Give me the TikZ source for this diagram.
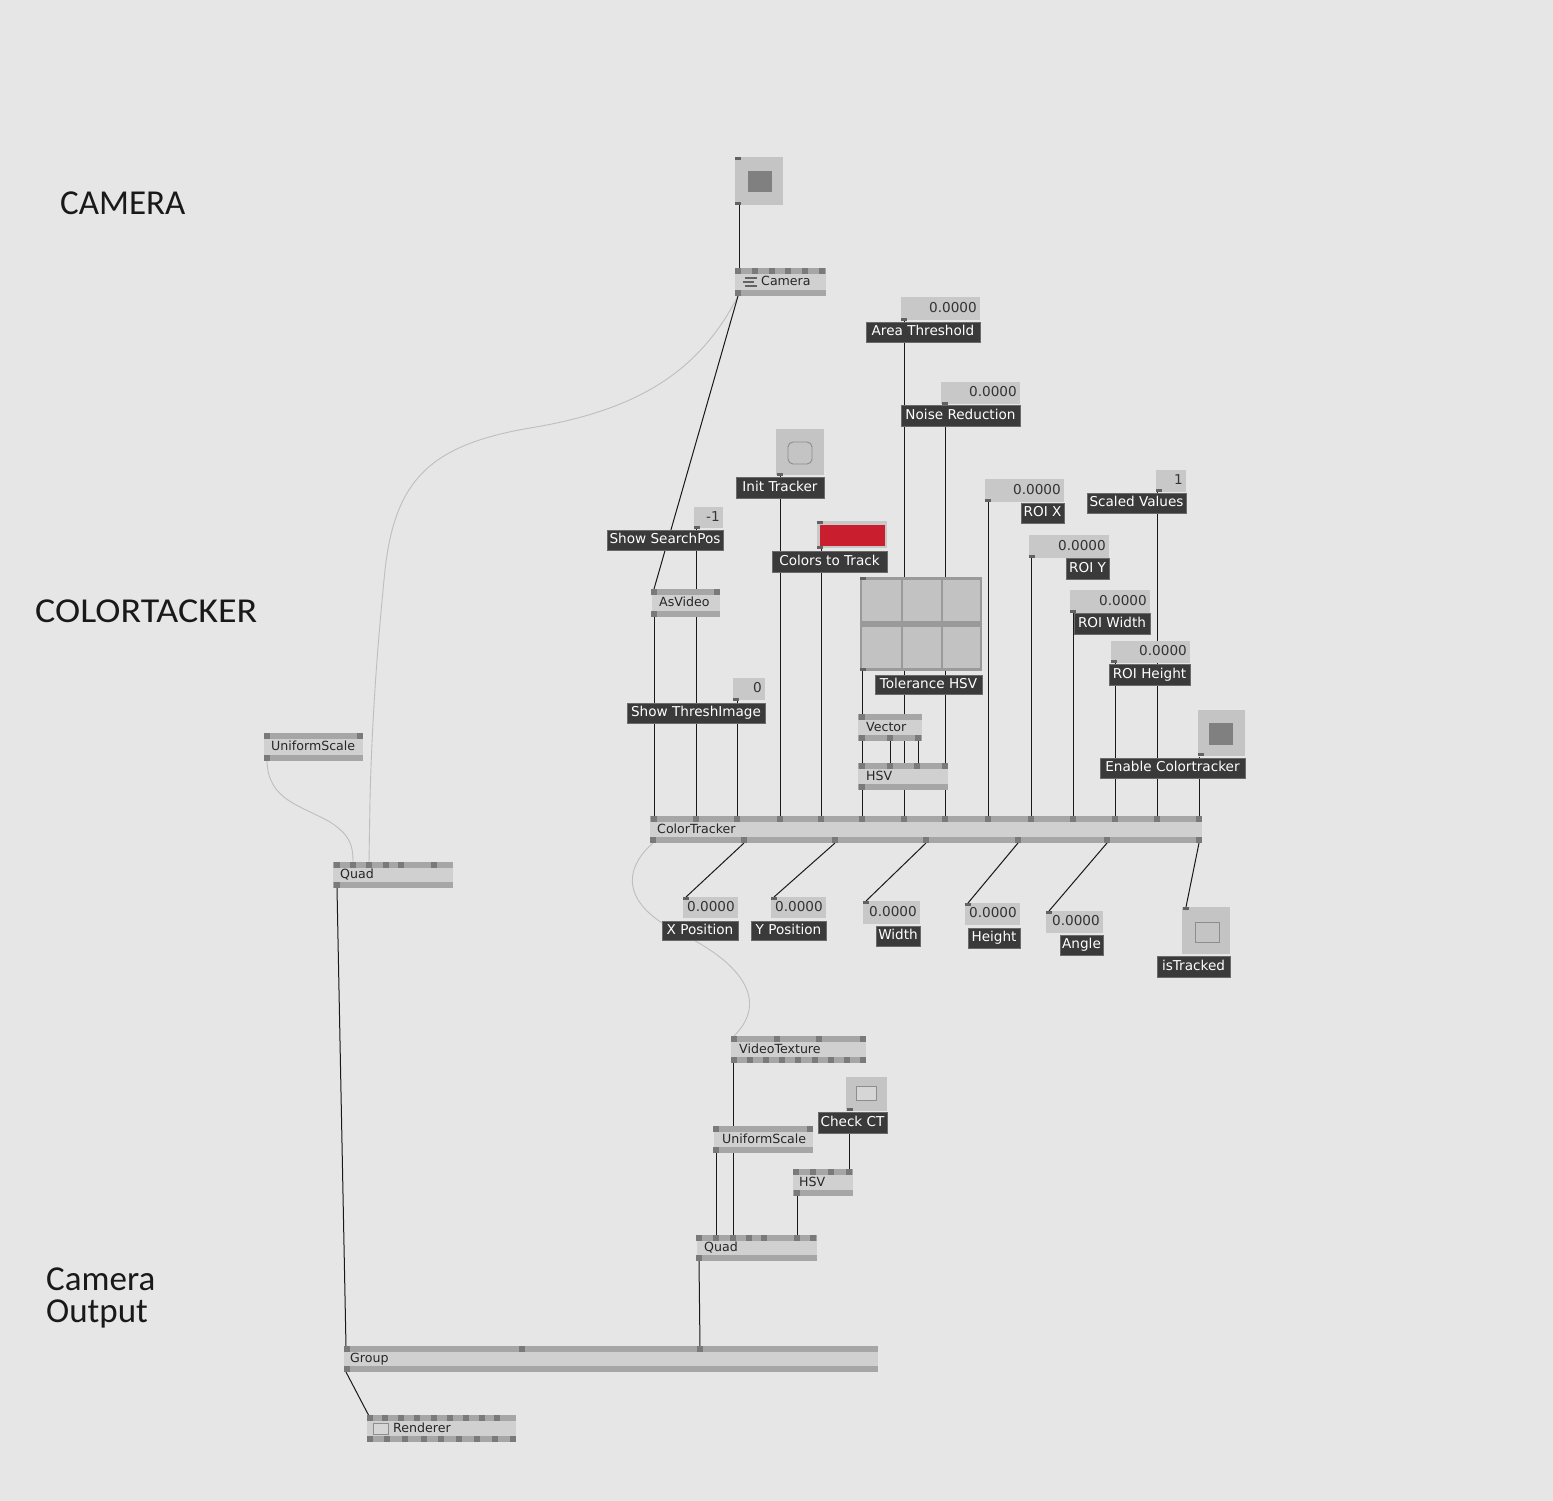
\documentclass[tikz,border=0pt]{standalone}
\usepackage{fontspec}
\setmainfont{DejaVu Sans}
\newfontfamily\titlefont{Carlito}
\definecolor{bgc}{HTML}{E6E6E6}
\definecolor{bodyc}{HTML}{D0D0D0}
\definecolor{barc}{HTML}{A6A6A6}
\definecolor{pinc}{HTML}{7A7A7A}
\definecolor{valc}{HTML}{C8C8C8}
\definecolor{labc}{HTML}{3A3A3A}
\definecolor{labb}{HTML}{6A6A6A}
\definecolor{togc}{HTML}{C4C4C4}
\definecolor{togin}{HTML}{808080}
\definecolor{curvec}{HTML}{BEBEBE}
\definecolor{cellc}{HTML}{C2C2C2}
\definecolor{sepc}{HTML}{9A9A9A}
\definecolor{redc}{HTML}{C81E2D}
\tikzset{
 vbody/.style={rectangle, fill=bodyc, inner sep=0pt, outer sep=0pt},
 nodetext/.style={font=\fontsize{12.6}{14}\selectfont, inner sep=0pt, text=black!85, text height=9.5pt, text depth=2.5pt},
 valstyle/.style={rectangle, fill=valc, inner sep=0pt, outer sep=0pt},
 valtext/.style={font=\fontsize{13.6}{15}\selectfont, inner sep=0pt, text=black!80, text height=10pt, text depth=2.5pt},
 labstyle/.style={rectangle, fill=labc, draw=labb, line width=0.6pt, inner sep=0pt, outer sep=0pt, text=white, font=\fontsize{13.6}{15}\selectfont, text height=10.5pt, text depth=3pt},
 togstyle/.style={rectangle, fill=togc, inner sep=0pt, outer sep=0pt},
 wire/.style={draw=black!90, line width=1pt},
 gwire/.style={draw=curvec, line width=0.9pt},
 title/.style={font=\titlefont\fontsize{35}{32}\selectfont, inner sep=0pt, text=black!90},
}
\newcommand\vvnode[7]{%
 \node[vbody, minimum width=#4pt, minimum height=#5pt, anchor=north west] (#1) at (#2,#3) {};
 \fill[barc] (#2,#3) rectangle ++(#4,6);
 \fill[barc] (#2,#3+#5) rectangle ++(#4,-6);
 \node[nodetext, anchor=west] (#1-t) at (#2+#7,#3+#5/2) {#6};
}
\newcommand\vtp[2]{\fill[pinc] (#1-3,#2) rectangle ++(6,6);}
\newcommand\vbp[2]{\fill[pinc] (#1-3,#2) rectangle ++(6,-6);}
\newcommand\sqpin[2]{\fill[pinc!80!black] (#1,#2) rectangle ++(6,3);}
\newcommand\valbox[6]{%
 \node[valstyle, minimum width=#4pt, minimum height=#5pt, anchor=north west] (#1) at (#2,#3) {};
 \node[valtext, anchor=east] (#1-t) at (#2+#4-3,#3+#5/2) {#6};
}
\newcommand\labbox[6]{%
 \node[labstyle, minimum width=#4pt, minimum height=#5pt, anchor=north west] (#1) at (#2,#3) {#6};
}
\newcommand\togbox[5]{%
 \node[togstyle, minimum width=#4pt, minimum height=#5pt, anchor=north west] (#1) at (#2,#3) {};
}
\begin{document}
\begin{tikzpicture}[x=1pt,y=-1pt]
\fill[bgc] (0,0) rectangle (1553,1501);
\useasboundingbox (0,0) rectangle (1553,1501);

% titles
\node[title, anchor=base west] (tcam) at (60,214) {CAMERA};
\node[title, anchor=base west] (tct) at (35,622) {\scalebox{1.085}[1]{COLORTACKER}};
\node[title, anchor=north west, align=left] (tout) at (46,1268) {Camera\\Output};

% coordinates for wires
\coordinate (camtogO) at (739,205);
\coordinate (camI) at (739,268);
\coordinate (camO) at (738,296);
\coordinate (asvI) at (654,589);
\coordinate (q1I2) at (353,862);
\coordinate (q1I3) at (369,862);
\coordinate (us1O) at (267,761);
\coordinate (q1O) at (337,888);
\coordinate (grpI1) at (346,1347);
\coordinate (grpI3) at (700,1347);
\coordinate (grpO) at (346,1372);
\coordinate (renI) at (369,1416);
\coordinate (q2O) at (699,1261);
\coordinate (ctO1) at (653,843);
\coordinate (vtI) at (734,1036);
\coordinate (vtO) at (733,1063);
\coordinate (q2I3) at (733,1235);
\coordinate (us2O) at (716,1153);
\coordinate (q2I2) at (716,1235);
\coordinate (cctO) at (849,1133);
\coordinate (hsv2I) at (849,1169);
\coordinate (hsv2O) at (797,1196);
\coordinate (q2I6) at (797,1235);

% gray curves
\draw[gwire] (camO) .. controls (700,370) and (640,410) .. (530,428)
  .. controls (430,445) and (395,480) .. (385,570)
  .. controls (377,650) and (372,720) .. (370,800) -- (q1I3);
\draw[gwire] (us1O) .. controls (268,800) and (300,805) .. (330,822)
  .. controls (350,835) and (353,845) .. (q1I2);
\draw[gwire] (ctO1) .. controls (622,870) and (622,905) .. (680,933)
  .. controls (740,962) and (770,1000) .. (vtI);

% black wires
\draw[wire] (camtogO) -- (camI);
\draw[wire] (camO) -- (asvI);
\draw[wire] (q1O) -- (grpI1);
\draw[wire] (grpO) -- (renI);
\draw[wire] (q2O) -- (grpI3);
\draw[wire] (vtO) -- (q2I3);
\draw[wire] (us2O) -- (q2I2);
\draw[wire] (cctO) -- (hsv2I);
\draw[wire] (hsv2O) -- (q2I6);

% ColorTracker inputs
\foreach \xx/\yy in {654/617, 696/528, 737/700, 780/475, 821/548, 862/790, 904/320, 945/403, 988/501, 1031/558, 1073/613, 1115/663, 1157/492, 1199/757}{
  \draw[wire] (\xx,\yy) -- (\xx,816);
}
\draw[wire] (862,670) -- (862,714);
\foreach \xx in {862,890,918}{\draw[wire] (\xx,741) -- (\xx,763);}

% ColorTracker outputs
\draw[wire] (744,843) -- (686,897);
\draw[wire] (835,843) -- (774,897);
\draw[wire] (926,843) -- (866,901);
\draw[wire] (1018,843) -- (968,903);
\draw[wire] (1107,843) -- (1049,911);
\draw[wire] (1199,843) -- (1186,907);

% ---------- Camera section
\togbox{camtog}{735}{157}{48}{48}
\fill[togin] (748,171) rectangle (772,192);
\sqpin{735}{157}\sqpin{735}{202}
\vvnode{cam}{735}{268}{91}{28}{Camera}{26}
\foreach \p in {738,755,772,788,805,822}{\vtp{\p}{268}}
\vbp{738}{296}
\draw[pinc!80!black, line width=1.3pt] (745,278) -- (757,278) (743,282) -- (754,282) (745,286) -- (757,286);

% ---------- inputs
\valbox{atv}{901}{297}{79}{23}{0.0000}
\labbox{atl}{866}{322}{114}{20}{Area Threshold}
\sqpin{901}{318}
\valbox{nrv}{941}{382}{79}{22}{0.0000}
\labbox{nrl}{901}{405}{119}{21}{Noise Reduction}
\sqpin{942}{402}

\togbox{ittog}{776}{429}{48}{46}
\draw[togin!90, line width=0.9pt, rounded corners=5pt] (788,442) rectangle (812,464);
\sqpin{777}{473}
\labbox{itl}{736}{477}{88}{21}{Init Tracker}

\valbox{ssv}{694}{507}{29}{21}{-1}
\sqpin{694}{526}
\labbox{ssl}{607}{530}{116}{20}{Show SearchPos}

\node[valstyle, minimum width=70pt, minimum height=27pt, anchor=north west] (ctc) at (817,521) {};
\fill[redc] (820,525) rectangle (885,546);
\sqpin{817}{521}\sqpin{817}{546}
\labbox{ctl}{772}{551}{115}{21}{Colors to Track}

\vvnode{asv}{652}{589}{68}{28}{AsVideo}{7}
\vtp{654}{589}\vtp{717}{589}\vbp{654}{617}

\node[rectangle, fill=sepc, minimum width=122pt, minimum height=94pt, inner sep=0pt, anchor=north west] (tolm) at (860,577) {};
\foreach \cx/\cw in {862/39, 903/38, 943/37}{
  \fill[cellc] (\cx,580) rectangle ++(\cw,41);
  \fill[cellc] (\cx,627) rectangle ++(\cw,41);
}
\sqpin{860}{577}\sqpin{860}{668}
\labbox{toll}{875}{675}{107}{19}{Tolerance HSV}

\valbox{stv}{733}{678}{32}{22}{0}
\sqpin{733}{698}
\labbox{stl}{627}{703}{138}{20}{Show ThreshImage}

\vvnode{vec}{858}{714}{64}{27}{Vector}{8}
\vtp{862}{714}
\foreach \p in {862,890,918}{\vbp{\p}{741}}
\vvnode{hsv}{858}{763}{90}{27}{HSV}{8}
\foreach \p in {862,890,917,945}{\vtp{\p}{763}}
\vbp{862}{790}

\valbox{rxv}{985}{479}{79}{23}{0.0000}
\sqpin{985}{499}
\labbox{rxl}{1021}{503}{43}{20}{ROI X}
\valbox{ryv}{1029}{535}{80}{23}{0.0000}
\sqpin{1029}{555}
\labbox{ryl}{1066}{558}{43}{21}{ROI Y}
\valbox{rwv}{1070}{590}{80}{23}{0.0000}
\sqpin{1070}{610}
\labbox{rwl}{1074}{613}{76}{21}{ROI Width}
\valbox{rhv}{1111}{641}{79}{22}{0.0000}
\sqpin{1111}{660}
\labbox{rhl}{1109}{664}{81}{21}{ROI Height}
\valbox{scv}{1156}{470}{30}{22}{1}
\sqpin{1156}{489}
\labbox{scl}{1087}{493}{99}{20}{Scaled Values}

\togbox{ectog}{1198}{710}{47}{46}
\fill[togin] (1209,723) rectangle (1233,745);
\sqpin{1198}{753}
\labbox{ecl}{1100}{758}{145}{20}{Enable Colortracker}

% ColorTracker
\vvnode{ct}{650}{816}{552}{27}{ColorTracker}{7}
\foreach \p in {654,696,737,780,821,862,904,945,988,1031,1073,1115,1157,1199}{\vtp{\p}{816}}
\foreach \p in {653,744,835,926,1018,1107,1199}{\vbp{\p}{843}}

% outputs
\valbox{xpv}{683}{897}{55}{21}{0.0000}
\sqpin{683}{897}
\labbox{xpl}{662}{921}{76}{19}{X Position}
\valbox{ypv}{771}{897}{55}{21}{0.0000}
\sqpin{771}{897}
\labbox{ypl}{751}{921}{75}{19}{Y Position}
\valbox{wv}{863}{901}{57}{23}{0.0000}
\sqpin{863}{901}
\labbox{wl}{876}{926}{44}{20}{Width}
\valbox{hv}{965}{903}{55}{22}{0.0000}
\sqpin{965}{903}
\labbox{hl}{968}{928}{52}{20}{Height}
\valbox{av}{1046}{911}{57}{22}{0.0000}
\sqpin{1046}{911}
\labbox{al}{1060}{935}{43}{20}{Angle}
\togbox{ittr}{1182}{907}{48}{47}
\draw[togin!90, line width=0.9pt] (1195,922) rectangle (1219,942);
\sqpin{1183}{907}
\labbox{itrl}{1157}{956}{73}{21}{isTracked}

% ---------- left
\vvnode{us1}{264}{733}{99}{28}{UniformScale}{7}
\vtp{267}{733}\vtp{360}{733}\vbp{267}{761}
\vvnode{q1}{333}{862}{120}{26}{Quad}{7}
\foreach \p in {337,353,369,386,401,434}{\vtp{\p}{862}}
\vbp{337}{888}

% ---------- output section
\vvnode{vt}{731}{1036}{135}{27}{VideoTexture}{8}
\foreach \p in {734,777,819,863}{\vtp{\p}{1036}}
\foreach \p in {734,750,766,782,798,815,831,847,863}{\vbp{\p}{1063}}
\togbox{cctog}{846}{1077}{41}{34}
\draw[togin!90, line width=0.9pt, fill=togc!70!white] (856,1086) rectangle (876,1100);
\sqpin{847}{1108}
\labbox{cctl}{818}{1112}{69}{21}{Check CT}
\vvnode{us2}{714}{1126}{99}{27}{UniformScale}{8}
\vtp{716}{1126}\vtp{810}{1126}\vbp{716}{1153}
\vvnode{hsv2}{793}{1169}{60}{27}{HSV}{6}
\foreach \p in {796,813,831,849}{\vtp{\p}{1169}}
\vbp{797}{1196}
\vvnode{q2}{697}{1235}{120}{26}{Quad}{7}
\foreach \p in {699,716,733,749,764,797,813}{\vtp{\p}{1235}}
\vbp{699}{1261}
\vvnode{grp}{344}{1346}{534}{26}{Group}{6}
\foreach \p in {347,522,700}{\vtp{\p}{1346}}
\vbp{347}{1372}
\vvnode{ren}{367}{1415}{149}{27}{Renderer}{26}
\foreach \p in {370,385,401,417,434,450,466,482,497}{\vtp{\p}{1415}}
\foreach \p in {370,387,405,424,441,459,477,495,513}{\vbp{\p}{1442}}
\draw[togin!90, line width=0.9pt, fill=togc!70!white] (373,1423) rectangle (388,1434);
\end{tikzpicture}
\end{document}
